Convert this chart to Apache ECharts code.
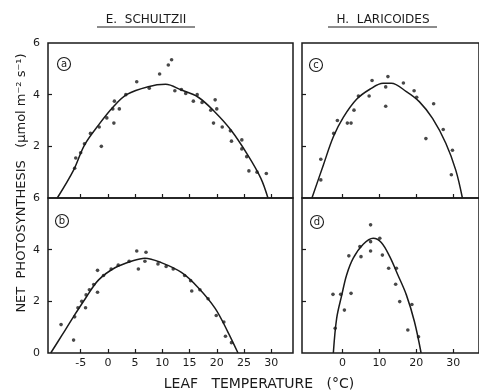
<!DOCTYPE html>
<html>
<head>
<meta charset="utf-8">
<script src="https://cdn.jsdelivr.net/npm/echarts@6/dist/echarts.min.js"></script>
<style>
  html, body { margin: 0; padding: 0; background: #fff; }
  #chart { width: 479px; height: 392px; }
</style>
</head>
<body>
<div id="chart"></div>
<script>
// leaf temperature (°C) vs net photosynthesis (umol m-2 s-1)

// E. schultzii, upper panel (a)
const aDots = [
  [-6.1, 1.15], [-5.9, 1.55], [-5.0, 1.75], [-4.3, 2.1], [-3.2, 2.5], [-1.6, 2.75],
  [-1.2, 2.0], [-0.2, 3.1], [0.9, 3.45], [1.1, 2.9], [1.2, 3.75], [2.1, 3.45],
  [3.3, 4.0], [5.3, 4.5], [7.6, 4.25], [9.5, 4.8], [11.1, 5.15], [11.7, 5.35],
  [12.3, 4.15], [13.5, 4.2], [14.3, 4.05], [15.7, 3.75], [16.4, 4.0], [17.3, 3.7],
  [18.9, 3.4], [19.7, 3.8], [20.0, 3.45], [19.4, 2.9], [21.0, 2.75], [22.5, 2.6],
  [22.7, 2.2], [24.6, 2.25], [24.6, 1.9], [25.5, 1.6], [25.9, 1.05], [27.4, 1.0],
  [29.1, 0.95]
];
const aCurve = [
  [-9.3, 0], [-6.3, 1.08], [-4.3, 2.05], [-1.7, 2.83], [1.0, 3.53], [3.5, 4.01],
  [7.4, 4.31], [10.6, 4.4], [13.5, 4.18], [16.6, 3.9], [19.6, 3.34], [22.6, 2.63],
  [25.7, 1.66], [28.1, 0.76], [29.4, 0]
];

// E. schultzii, lower panel (b)
const bDots = [
  [-8.6, 1.1], [-6.3, 0.5], [-6.1, 1.4], [-5.5, 1.75], [-4.8, 2.0], [-4.1, 1.75],
  [-4.0, 2.25], [-3.4, 2.45], [-2.6, 2.65], [-1.9, 3.2], [-1.9, 2.35], [-0.8, 3.0],
  [0.6, 3.25], [1.9, 3.4], [3.9, 3.55], [5.3, 3.95], [5.6, 3.25], [6.8, 3.55],
  [7.0, 3.9], [9.2, 3.45], [10.7, 3.35], [12.0, 3.25], [14.1, 3.0], [15.2, 2.8],
  [15.4, 2.4], [16.9, 2.45], [18.4, 2.1], [19.9, 1.45], [21.3, 1.2], [21.6, 0.65],
  [22.7, 0.4]
];
const bCurve = [
  [-10.5, 0], [-8.4, 0.7], [-6.3, 1.41], [-4.1, 2.12], [-1.7, 2.83], [1.3, 3.3],
  [4.4, 3.56], [6.8, 3.67], [9.8, 3.5], [13.5, 3.12], [16.6, 2.53], [19.7, 1.73],
  [22.0, 0.83], [23.9, 0]
];

// H. laricoides, upper panel (c)
const cDots = [
  [-5.9, 0.7], [-5.9, 1.5], [-2.4, 2.5], [-1.4, 3.0], [1.3, 2.9], [2.3, 2.9],
  [3.1, 3.4], [4.3, 3.95], [7.2, 3.95], [8.0, 4.55], [11.7, 3.55], [11.7, 4.3],
  [12.3, 4.7], [16.5, 4.45], [19.4, 4.15], [20.1, 3.9], [22.6, 2.3], [24.7, 3.65],
  [27.3, 2.65], [29.8, 1.85], [29.5, 0.9]
];
const cCurve = [
  [-8.3, 0], [-5.2, 1.28], [-2.5, 2.37], [0.2, 3.12], [3.8, 3.82], [7.4, 4.21],
  [11.0, 4.44], [13.2, 4.44], [17.3, 4.12], [20.8, 3.73], [24.4, 3.08], [28.0, 2.12],
  [30.7, 1.08], [32.5, 0]
];

// H. laricoides, lower panel (d)
const dDots = [
  [-2.6, 2.27], [-2.0, 0.96], [-0.5, 2.27], [0.5, 1.66], [2.3, 2.31], [1.7, 3.76],
  [4.7, 4.12], [5.0, 3.73], [7.6, 4.96], [7.6, 4.31], [7.6, 3.95], [10.1, 4.44],
  [10.8, 3.79], [12.5, 3.28], [14.6, 3.28], [14.4, 2.66], [15.5, 1.99], [18.8, 1.88],
  [17.7, 0.89], [20.6, 0.63]
];
const dCurve = [
  [-2.5, 0], [-1.6, 1.34], [-0.2, 2.25], [1.1, 3.02], [2.9, 3.67], [5.6, 4.21],
  [8.3, 4.44], [10.5, 4.28], [12.8, 3.73], [15.0, 3.02], [17.3, 2.25], [19.5, 1.21],
  [21.3, 0]
];

const leftTempTicks = [-5, 0, 5, 10, 15, 20, 25, 30];
const rightTempTicks = [0, 10, 20, 30];
const upperRateTicks = [2, 4, 6];
const lowerRateTicks = [0, 2, 4, 6];

const ink = '#1a1a1a';
const font = 'DejaVu Sans';

const chart = echarts.init(document.getElementById('chart'));

function xAxisFor(gridIndex, min, max, ticks, showLabels) {
  return {
    type: 'value',
    gridIndex: gridIndex,
    min: min,
    max: max,
    axisLine: { show: false, onZero: false },
    axisTick: {
      show: true, inside: true, length: 4, customValues: ticks,
      lineStyle: { color: ink, width: 1.2 }
    },
    axisLabel: {
      show: showLabels, customValues: ticks, color: ink,
      fontSize: 11, fontFamily: font, margin: 5
    },
    splitLine: { show: false }
  };
}

function yAxisFor(gridIndex, ticks, showLabels) {
  return {
    type: 'value',
    gridIndex: gridIndex,
    min: 0,
    max: 6,
    axisLine: { show: false, onZero: false },
    axisTick: {
      show: true, inside: true, length: 4, customValues: [2, 4],
      lineStyle: { color: ink, width: 1.2 }
    },
    axisLabel: {
      show: showLabels, customValues: ticks, color: ink,
      fontSize: 11, fontFamily: font, margin: 8
    },
    splitLine: { show: false }
  };
}

function dotsSeries(idx, data) {
  return {
    type: 'scatter', xAxisIndex: idx, yAxisIndex: idx, data: data,
    symbolSize: 3.6, itemStyle: { color: ink }, silent: true, z: 3
  };
}

function curveSeries(idx, data) {
  return {
    type: 'line', xAxisIndex: idx, yAxisIndex: idx, data: data,
    smooth: 0.35, showSymbol: false, lineStyle: { color: ink, width: 1.5 },
    silent: true, z: 2
  };
}

function panelBadge(cx, cy, letter) {
  return {
    type: 'group',
    children: [
      { type: 'circle', shape: { cx: cx, cy: cy, r: 6.5 },
        style: { fill: 'none', stroke: ink, lineWidth: 1.1 } },
      { type: 'text', x: cx, y: cy,
        style: { text: letter, fill: ink, font: '10px ' + font, align: 'center', verticalAlign: 'middle' } }
    ]
  };
}

const gridStyle = { show: true, borderColor: ink, borderWidth: 1.5, backgroundColor: 'transparent' };

const option = {
  animation: false,
  backgroundColor: '#fff',
  grid: [
    Object.assign({ left: 48, top: 43, width: 245, height: 155 }, gridStyle),
    Object.assign({ left: 48, top: 198, width: 245, height: 155 }, gridStyle),
    Object.assign({ left: 302, top: 43, width: 179, height: 155 }, gridStyle),
    Object.assign({ left: 302, top: 198, width: 179, height: 155 }, gridStyle)
  ],
  xAxis: [
    xAxisFor(0, -11, 34, leftTempTicks, false),
    xAxisFor(1, -11, 34, leftTempTicks, true),
    xAxisFor(2, -11, 37, rightTempTicks, false),
    xAxisFor(3, -11, 37, rightTempTicks, true)
  ],
  yAxis: [
    yAxisFor(0, upperRateTicks, true),
    yAxisFor(1, lowerRateTicks, true),
    yAxisFor(2, upperRateTicks, false),
    yAxisFor(3, lowerRateTicks, false)
  ],
  series: [
    curveSeries(0, aCurve), dotsSeries(0, aDots),
    curveSeries(1, bCurve), dotsSeries(1, bDots),
    curveSeries(2, cCurve), dotsSeries(2, cDots),
    curveSeries(3, dCurve), dotsSeries(3, dDots)
  ],
  graphic: [
    { type: 'text', x: 146, y: 20,
      style: { text: 'E.  SCHULTZII', fill: ink, font: '12px ' + font, align: 'center', verticalAlign: 'middle' } },
    { type: 'line', shape: { x1: 97, y1: 27, x2: 195, y2: 27 }, style: { stroke: ink, lineWidth: 1 } },
    { type: 'text', x: 383, y: 20,
      style: { text: 'H.  LARICOIDES', fill: ink, font: '12px ' + font, align: 'center', verticalAlign: 'middle' } },
    { type: 'line', shape: { x1: 328, y1: 27, x2: 437, y2: 27 }, style: { stroke: ink, lineWidth: 1 } },
    { type: 'text', x: 22, y: 183, rotation: Math.PI / 2,
      style: { text: 'NET  PHOTOSYNTHESIS   (μmol m⁻² s⁻¹)', fill: ink, font: '13px ' + font,
               align: 'center', verticalAlign: 'middle' } },
    { type: 'text', x: 259, y: 384,
      style: { text: 'LEAF   TEMPERATURE   (°C)', fill: ink, font: '14px ' + font, align: 'center', verticalAlign: 'middle' } },
    panelBadge(64, 64, 'a'),
    panelBadge(62, 221, 'b'),
    panelBadge(316, 65, 'c'),
    panelBadge(317, 222, 'd')
  ]
};

chart.setOption(option);
</script>
</body>
</html>
